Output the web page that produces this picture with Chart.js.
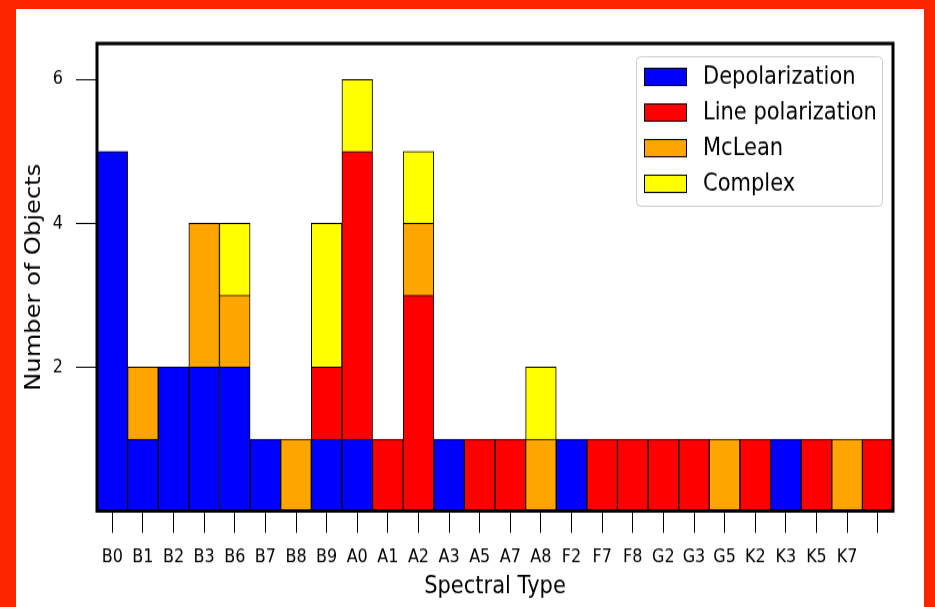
<!DOCTYPE html>
<html>
<head>
<meta charset="utf-8">
<script src="https://cdn.jsdelivr.net/npm/chart.js@4/dist/chart.umd.min.js"></script>
<style>
  html, body { margin: 0; padding: 0; }
  body { width: 935px; height: 607px; background: #ff2400; position: relative; overflow: hidden; }
  #frame { position: absolute; left: 16px; top: 9px; width: 908px; height: 598px; background: #fff; overflow: hidden; }
  /* the original figure is stretched vertically, so draw it shorter and scale it up */
  #wrap { position: absolute; left: 0; top: 0; width: 908px; height: 520px; transform: scaleY(1.15); transform-origin: 0 0; }
</style>
</head>
<body>
<div id="frame"><div id="wrap"><canvas id="chart"></canvas></div></div>
<script>
// spectral types (last bar has no label in the original)
const spectralTypes = ['B0','B1','B2','B3','B6','B7','B8','B9','A0','A1','A2','A3','A5','A7','A8','F2','F7','F8','G2','G3','G5','K2','K3','K5','K7',''];

const depolarization   = [5,1,2,2,2,1,0,1,1,0,0,1,0,0,0,1,0,0,0,0,0,0,1,0,0,0];
const linePolarization = [0,0,0,0,0,0,0,1,4,1,3,0,1,1,0,0,1,1,1,1,0,1,0,1,0,1];
const mcLean           = [0,1,0,2,1,0,1,0,0,0,1,0,0,0,1,0,0,0,0,0,1,0,0,0,1,0];
const complex          = [0,0,0,0,1,0,0,2,1,0,1,0,0,0,1,0,0,0,0,0,0,0,0,0,0,0];

const yTicks = [2, 4, 6];
const font = 'DejaVu Sans';

function mkSet(label, data, color) {
  return {
    label,
    data: data.map(v => v === 0 ? null : v),
    backgroundColor: color,
    borderColor: '#000',
    borderWidth: 1,
    borderSkipped: 'start',
    barPercentage: 1,
    categoryPercentage: 1,
  };
}

// frame around the plot + legend box in the top-right corner
const framePlugin = {
  id: 'frameLegend',
  afterDraw(chart) {
    const ctx = chart.ctx;
    const a = chart.chartArea;
    ctx.save();
    ctx.strokeStyle = '#000';
    ctx.lineWidth = 3;
    ctx.strokeRect(a.left, a.top, a.right - a.left, a.bottom - a.top);

    const w = 246, h = 130;
    const x = a.right - 11 - w, y = a.top + 11;
    ctx.lineWidth = 1;
    ctx.strokeStyle = '#cccccc';
    ctx.fillStyle = 'rgba(255,255,255,0.9)';
    ctx.beginPath();
    ctx.roundRect(x + 0.5, y + 0.5, w, h, 4);
    ctx.fill();
    ctx.stroke();

    ctx.font = '21px "' + font + '"';
    ctx.textBaseline = 'middle';
    chart.data.datasets.forEach((ds, i) => {
      const cy = y + 17.5 + i * 31;
      ctx.fillStyle = ds.backgroundColor;
      ctx.fillRect(x + 8, cy - 7.5, 42, 15);
      ctx.strokeStyle = '#000';
      ctx.strokeRect(x + 8.5, cy - 7, 42, 15);
      ctx.fillStyle = '#000';
      ctx.fillText(ds.label, x + 67, cy + 1);
    });
    ctx.restore();
  }
};

new Chart(document.getElementById('chart'), {
  type: 'bar',
  data: {
    labels: spectralTypes,
    datasets: [
      mkSet('Depolarization', depolarization, '#0000ff'),
      mkSet('Line polarization', linePolarization, '#ff0000'),
      mkSet('McLean', mcLean, '#ffa500'),
      mkSet('Complex', complex, '#ffff00'),
    ],
  },
  options: {
    responsive: true,
    maintainAspectRatio: false,
    animation: false,
    layout: { padding: { left: 0, right: 31, top: 30, bottom: 0 } },
    plugins: {
      legend: { display: false },
      tooltip: { enabled: false },
    },
    scales: {
      x: {
        stacked: true,
        border: { display: false },
        grid: { offset: false, drawOnChartArea: false, drawTicks: true, tickLength: 19, tickColor: '#000', tickWidth: 1 },
        ticks: { color: '#000', font: { family: font, size: 16 }, padding: 12, maxRotation: 0, autoSkip: false },
        title: { display: true, text: 'Spectral Type', color: '#000', font: { family: font, size: 21 }, padding: { top: 0, bottom: 5 } },
        afterFit: s => { s.height = 83.5; },
      },
      y: {
        stacked: true,
        min: 0,
        max: 6.5,
        border: { display: false },
        grid: { drawOnChartArea: false, drawTicks: true, tickLength: 21, tickColor: '#000', tickWidth: 1 },
        ticks: { color: '#000', font: { family: font, size: 16 }, padding: 13 },
        afterBuildTicks: s => { s.ticks = yTicks.map(v => ({ value: v })); },
        title: { display: true, text: 'Number of Objects', color: '#000', font: { family: font, size: 21 }, padding: { top: 6, bottom: 0 } },
        afterFit: s => { s.width = 81; },
      },
    },
  },
  plugins: [framePlugin],
});
</script>
</body>
</html>
